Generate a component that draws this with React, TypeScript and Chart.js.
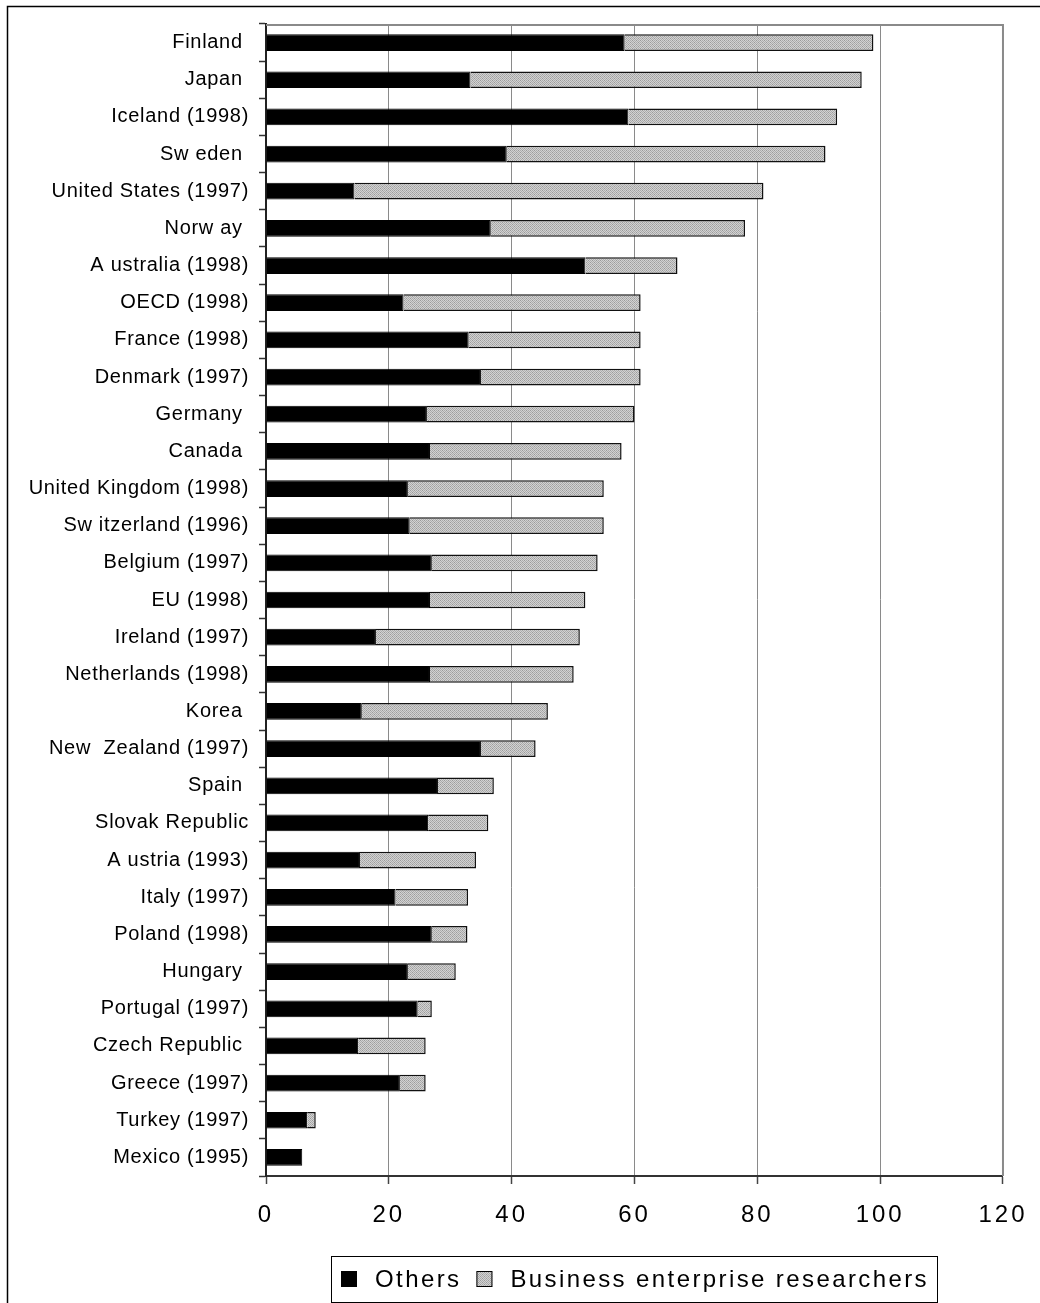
import { useEffect, useRef } from "react";
import { Chart, registerables } from "chart.js";

Chart.register(...registerables);

// Researchers per 10 000 labour force, split by sector
const countries = [
  "Finland ",
  "Japan ",
  "Iceland (1998)",
  "Sw eden ",
  "United States (1997)",
  "Norw ay ",
  "A ustralia (1998)",
  "OECD (1998)",
  "France (1998)",
  "Denmark (1997)",
  "Germany ",
  "Canada ",
  "United Kingdom (1998)",
  "Sw itzerland (1996)",
  "Belgium (1997)",
  "EU (1998)",
  "Ireland (1997)",
  "Netherlands (1998)",
  "Korea ",
  "New  Zealand (1997)",
  "Spain ",
  "Slovak Republic",
  "A ustria (1993)",
  "Italy (1997)",
  "Poland (1998)",
  "Hungary ",
  "Portugal (1997)",
  "Czech Republic ",
  "Greece (1997)",
  "Turkey (1997)",
  "Mexico (1995)",
];

const others = [
  58.4, 33.3, 59.0, 39.2, 14.4, 36.6, 52.0, 22.4, 33.0, 35.0, 26.2, 26.7, 23.1,
  23.4, 27.0, 26.7, 17.9, 26.7, 15.6, 35.0, 28.0, 26.4, 15.3, 21.1, 27.0, 23.1,
  24.7, 15.0, 21.8, 6.7, 5.9,
];

const business = [
  40.5, 63.7, 34.0, 51.9, 66.6, 41.4, 15.0, 38.6, 28.0, 26.0, 33.8, 31.2, 31.9,
  31.6, 27.0, 25.3, 33.2, 23.4, 30.3, 8.9, 9.1, 9.8, 18.9, 11.8, 5.8, 7.8, 2.3,
  11.0, 4.2, 1.4, 0,
];

const seriesNames = ["Others", "Business enterprise researchers"];

const xMin = 0;
const xMax = 120;
const xStep = 20;

const FONT = '"Liberation Sans", Arial, Helvetica, sans-serif';

// Fine grey stipple used for the business-sector segments
function makeHatch(): CanvasPattern | string {
  const c = document.createElement("canvas");
  c.width = 4;
  c.height = 4;
  const g = c.getContext("2d");
  if (!g) return "#c0c0c0";
  g.fillStyle = "#d2d2d2";
  g.fillRect(0, 0, 4, 4);
  g.fillStyle = "#acacac";
  for (let y = 0; y < 4; y++) {
    for (let x = 0; x < 4; x++) {
      if ((x + y) % 2 === 0) g.fillRect(x, y, 1, 1);
    }
  }
  g.fillStyle = "#9a9a9a";
  g.fillRect(0, 0, 1, 1);
  g.fillRect(2, 2, 1, 1);
  return g.createPattern(c, "repeat") ?? "#c0c0c0";
}

// Frame, plot border, per-layer letter spacing and the boxed legend
const decorPlugin = {
  id: "decor",
  beforeDraw(chart: any) {
    const ctx = chart.ctx as CanvasRenderingContext2D;
    (ctx as any).letterSpacing = "0.7px";
    ctx.save();
    ctx.strokeStyle = "#000";
    ctx.lineWidth = 1.5;
    ctx.beginPath();
    ctx.moveTo(7.5, chart.height + 5);
    ctx.lineTo(7.5, 6.5);
    ctx.lineTo(chart.width + 5, 6.5);
    ctx.stroke();
    ctx.restore();
  },
  beforeDatasetsDraw(chart: any) {
    const ctx = chart.ctx as CanvasRenderingContext2D;
    const { left, right, top, bottom } = chart.chartArea;
    ctx.save();
    ctx.strokeStyle = "#8a8a8a";
    ctx.lineWidth = 2;
    ctx.beginPath();
    ctx.moveTo(left, top + 1);
    ctx.lineTo(right, top + 1);
    ctx.moveTo(right, top);
    ctx.lineTo(right, bottom);
    ctx.stroke();
    ctx.restore();
  },
  afterDatasetsDraw(chart: any) {
    (chart.ctx as any).letterSpacing = "3px";
  },
  afterDraw(chart: any) {
    const ctx = chart.ctx as CanvasRenderingContext2D;
    ctx.save();
    (ctx as any).letterSpacing = "2.4px";
    ctx.font = `24px ${FONT}`;
    ctx.textBaseline = "alphabetic";
    ctx.textAlign = "left";
    const sq = 16;
    const gapText = 18;
    const gapItem = 15;
    const padL = 9;
    const padR = 9;
    const items = chart.data.datasets.map((ds: any) => ({
      label: ds.label as string,
      fill: ds.backgroundColor,
      w: ctx.measureText(ds.label).width,
    }));
    let total = padL + padR;
    items.forEach((it: any, i: number) => {
      total += sq + gapText + it.w + (i ? gapItem : 0);
    });
    total = Math.round(total);
    const cx = (chart.chartArea.left + chart.chartArea.right) / 2;
    const boxTop = chart.chartArea.bottom + 80.5;
    const boxH = 46;
    const boxLeft = Math.round(cx - total / 2) + 0.5;
    ctx.fillStyle = "#fff";
    ctx.fillRect(boxLeft, boxTop, total, boxH);
    ctx.strokeStyle = "#000";
    ctx.lineWidth = 1;
    ctx.strokeRect(boxLeft, boxTop, total, boxH);
    const baseline = boxTop + 30.5;
    let x = Math.round(boxLeft + padL);
    items.forEach((it: any, i: number) => {
      if (i) x += gapItem;
      ctx.fillStyle = it.fill;
      ctx.fillRect(x, baseline - sq, sq, sq);
      ctx.strokeStyle = "#000";
      ctx.lineWidth = 1;
      ctx.strokeRect(x + 0.5, baseline - sq + 0.5, sq - 1, sq - 1);
      x += sq + gapText;
      ctx.fillStyle = "#000";
      ctx.fillText(it.label, x, baseline);
      x += it.w;
    });
    ctx.restore();
    (ctx as any).letterSpacing = "0px";
  },
};

export default function App() {
  const ref = useRef<HTMLCanvasElement | null>(null);

  useEffect(() => {
    if (!ref.current) return;
    const hatch = makeHatch();
    const chart = new Chart(ref.current, {
      type: "bar",
      data: {
        labels: countries,
        datasets: [
          {
            label: seriesNames[0],
            data: others,
            backgroundColor: "#000",
            borderColor: "#000",
            borderWidth: 1,
            barPercentage: 0.45,
            categoryPercentage: 1,
          },
          {
            label: seriesNames[1],
            data: business,
            backgroundColor: hatch as any,
            borderColor: "#111",
            borderWidth: 1.5,
            barPercentage: 0.45,
            categoryPercentage: 1,
          },
        ],
      },
      options: {
        indexAxis: "y",
        responsive: false,
        maintainAspectRatio: false,
        animation: false,
        devicePixelRatio: 1,
        layout: { padding: { left: 0, right: 36, top: 24, bottom: 0 } },
        plugins: {
          legend: { display: false },
          tooltip: { enabled: false },
        },
        scales: {
          x: {
            stacked: true,
            min: xMin,
            max: xMax,
            afterFit: (s: any) => {
              s.height = 127;
            },
            ticks: {
              stepSize: xStep,
              color: "#000",
              font: { family: FONT, size: 24 },
              padding: 17,
              z: 1,
            },
            grid: {
              color: "#8a8a8a",
              lineWidth: 1,
              tickColor: "#444",
              tickLength: 8,
              tickWidth: 1.5,
            },
            border: { color: "#333", width: 2 },
          },
          y: {
            stacked: true,
            afterFit: (s: any) => {
              s.width = 266;
            },
            ticks: {
              color: "#000",
              font: { family: FONT, size: 20 },
              padding: 10,
              autoSkip: false,
            },
            grid: {
              drawOnChartArea: false,
              drawTicks: true,
              tickLength: 7,
              tickColor: "#333",
              tickWidth: 1.5,
            },
            border: { color: "#222", width: 2 },
          },
        },
      },
      plugins: [decorPlugin],
    });
    return () => chart.destroy();
  }, []);

  return (
    <canvas
      ref={ref}
      width={1040}
      height={1303}
      style={{ position: "absolute", left: 0, top: 0, width: 1040, height: 1303 }}
    />
  );
}
